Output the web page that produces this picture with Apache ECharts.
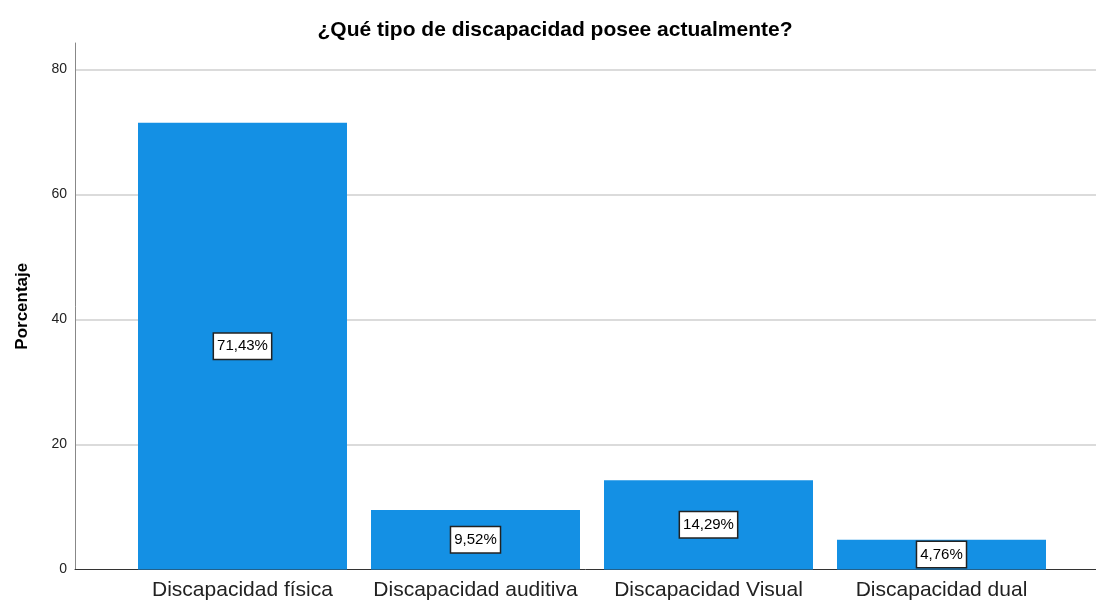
<!DOCTYPE html>
<html>
<head>
<meta charset="utf-8">
<script src="https://cdn.jsdelivr.net/npm/echarts@6/dist/echarts.min.js"></script>
<style>
html,body{margin:0;padding:0;background:#fff;}
#chart{width:1096px;height:603px;}
</style>
</head>
<body>
<div id="chart"></div>
<script>
const titleText = '¿Qué tipo de discapacidad posee actualmente?';
const yAxisTitle = 'Porcentaje';
const categories = ['Discapacidad física', 'Discapacidad auditiva', 'Discapacidad Visual', 'Discapacidad dual'];
const percentages = [71.43, 9.52, 14.29, 4.76];
const yMin = 0, yMax = 84.2, yInterval = 20;

const chart = echarts.init(document.getElementById('chart'), null, {renderer: 'canvas'});
const font = 'Arial, "Liberation Sans", sans-serif';
chart.setOption({
  animation: false,
  backgroundColor: '#fff',
  title: {
    text: titleText,
    left: 550, top: 15, textAlign: 'center',
    textStyle: {fontFamily: font, fontWeight: 'bold', fontSize: 21, color: '#000'}
  },
  grid: [
    {left: 75, right: 0, top: 43, bottom: 33.5},
    {left: 126, width: 932, top: 43, bottom: 33.5}
  ],
  xAxis: [
    {gridIndex: 0, type: 'value', min: 0, max: 1, show: true,
     axisLine: {show: true, onZero: false, lineStyle: {color: '#333', width: 1}},
     axisTick: {show: false}, axisLabel: {show: false}, splitLine: {show: false}},
    {gridIndex: 1, type: 'category', data: categories,
     axisLine: {show: false}, axisTick: {show: false},
     axisLabel: {interval: 0, hideOverlap: false, fontFamily: font, fontSize: 21, color: '#222', margin: 10}}
  ],
  yAxis: [
    {gridIndex: 0, type: 'value', min: yMin, max: yMax, interval: yInterval,
     name: yAxisTitle, nameLocation: 'middle', nameGap: 44,
     nameTextStyle: {fontFamily: font, fontWeight: 'bold', fontSize: 17, color: '#000'},
     axisLine: {show: true, lineStyle: {color: '#888', width: 1}},
     axisTick: {show: false},
     axisLabel: {fontFamily: font, fontSize: 14, color: '#222', margin: 8, showMaxLabel: false},
     splitLine: {show: true, showMinLine: false, showMaxLine: false, lineStyle: {color: '#cfcfcf', width: 1.5}}},
    {gridIndex: 1, type: 'value', min: yMin, max: yMax, interval: yInterval, show: false,
     splitLine: {show: false}}
  ],
  series: [{
    type: 'bar', xAxisIndex: 1, yAxisIndex: 1,
    data: percentages, barWidth: 209,
    itemStyle: {color: '#1490e4'},
    label: {
      show: true, position: 'inside',
      formatter: p => p.value.toFixed(2).replace('.', ',') + '%',
      fontFamily: font, fontSize: 15, color: '#000',
      backgroundColor: '#fff', borderColor: '#222', borderWidth: 1.5,
      padding: [6, 3, 4, 3]
    }
  }]
});
</script>
</body>
</html>
